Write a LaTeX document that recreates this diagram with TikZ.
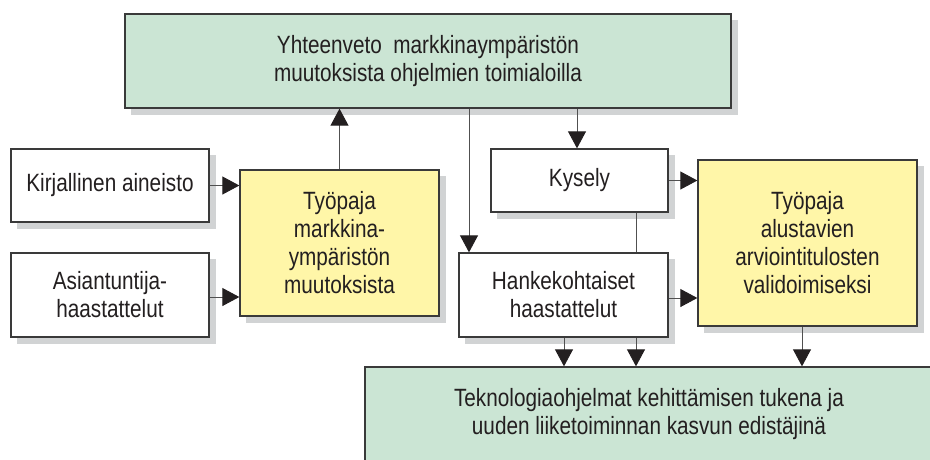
\documentclass[tikz,border=0pt]{standalone}
\usepackage{fontspec}
\setmainfont{Liberation Sans}[FakeStretch=0.83]
\usetikzlibrary{arrows.meta}
\definecolor{txt}{HTML}{231F20}
\definecolor{greenfill}{HTML}{CBE5D4}
\definecolor{yellowfill}{HTML}{FFF6A8}
\definecolor{shadowgray}{HTML}{D1D3D4}
\definecolor{bordercol}{HTML}{3A3A3A}
\definecolor{linegray}{HTML}{505050}
\pgfdeclarelayer{shadowlayer}
\pgfdeclarelayer{connlayer}
\pgfsetlayers{shadowlayer,connlayer,main}
\begin{document}
\begin{tikzpicture}[x=1pt,y=-1pt,
  box/.style={draw=bordercol, line width=1.3pt, fill=white, align=center, text=txt,
    inner sep=0pt, font=\fontsize{25}{28}\selectfont},
  greenbox/.style={box, fill=greenfill},
  yellowbox/.style={box, fill=yellowfill},
  conn/.style={draw=linegray, line width=0.9pt, -{Triangle[length=17pt,width=18pt,color=txt]}},
  shadowbox/.style={fill=shadowgray}
]
\useasboundingbox (0,0) rectangle (930,459);
\clip (0,0) rectangle (930,459);

% nodes
\node[greenbox, minimum width=606pt, minimum height=94pt] (top) at (428,61)
  {Yhteenveto\ \ markkinaympäristön\\muutoksista ohjelmien toimialoilla};
\node[box, minimum width=198pt, minimum height=73pt] (kir) at (110,185.5)
  {Kirjallinen aineisto};
\node[box, minimum width=198pt, minimum height=84pt] (asi) at (110,295)
  {Asiantuntija-\\haastattelut};
\node[yellowbox, minimum width=199pt, minimum height=146pt] (ty1) at (339.5,243)
  {Työpaja\\markkina-\\ympäristön\\muutoksista};
\node[box, minimum width=177pt, minimum height=63pt] (kys) at (579.5,180.5)
  {Kysely};
\node[box, minimum width=209pt, minimum height=84pt] (han) at (563.5,295)
  {Hankekohtaiset\\haastattelut};
\node[yellowbox, minimum width=219pt, minimum height=166pt] (ty2) at (807.5,243)
  {Työpaja\\alustavien\\arviointitulosten\\validoimiseksi};
\node[greenbox, minimum width=568pt, minimum height=94pt] (bot) at (649,414)
  {Teknologiaohjelmat kehittämisen tukena ja\\uuden liiketoiminnan kasvun edistäjinä};

% shadows
\begin{pgfonlayer}{shadowlayer}
\foreach \n in {top,kir,asi,ty1,kys,han,ty2,bot}{
  \fill[shadowbox] ([shift={(6.5,6.5)}]\n.north west) rectangle ([shift={(6.5,6.5)}]\n.south east);
}
\end{pgfonlayer}

% connector positions
\coordinate (c469) at (469,0);
\coordinate (c577) at (577,0);
\coordinate (c636) at (636,0);
\coordinate (c564) at (564,0);
\coordinate (c802) at (802,0);

\begin{pgfonlayer}{connlayer}
\draw[conn] (kir.east) -- (kir.east -| ty1.west);
\draw[conn] ([yshift=-2pt]asi.east) -- ([yshift=-2pt]asi.east -| ty1.west);
\draw[conn] (ty1.north) -- (ty1.north |- top.south);
\draw[conn] (top.south -| c469) -- (han.north -| c469);
\draw[conn] (top.south -| c577) -- (kys.north -| c577);
\draw[conn] (kys.east) -- (kys.east -| ty2.west);
\draw[conn] ([yshift=-3pt]han.east) -- ([yshift=-3pt]han.east -| ty2.west);
\draw[conn] (kys.south -| c636) -- (bot.north -| c636);
\draw[conn] (han.south -| c564) -- (bot.north -| c564);
\draw[conn] (ty2.south -| c802) -- (bot.north -| c802);
\end{pgfonlayer}
\end{tikzpicture}
\end{document}
